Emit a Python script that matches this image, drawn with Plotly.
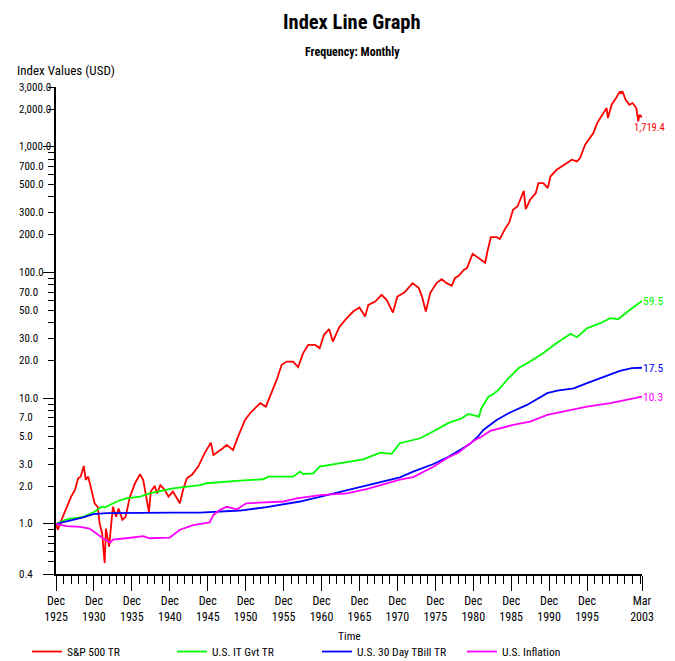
import numpy as np
import plotly.graph_objects as go

# ---------------- data ----------------
SP500_DATES = [
    "1925-12", "1926-03", "1926-09", "1927-05", "1927-12", "1928-06", "1928-11", "1929-03",
    "1929-08", "1929-11", "1930-03", "1930-08", "1931-01", "1931-06", "1931-09", "1932-01",
    "1932-05", "1932-07", "1932-12", "1933-06", "1933-11", "1934-03", "1934-09", "1935-02",
    "1935-09", "1936-05", "1937-01", "1937-06", "1937-10", "1938-03", "1938-06", "1938-12",
    "1939-04", "1939-09", "1940-04", "1940-10", "1941-05", "1942-04", "1942-09", "1943-03",
    "1943-11", "1944-09", "1945-07", "1946-05", "1946-09", "1947-05", "1947-12", "1948-06",
    "1949-04", "1949-12", "1950-11", "1951-07", "1952-03", "1952-11", "1953-08", "1954-05",
    "1955-01", "1955-09", "1956-05", "1957-03", "1957-11", "1958-07", "1959-03", "1960-02",
    "1960-09", "1961-04", "1961-12", "1962-06", "1963-04", "1964-04", "1965-02", "1965-12",
    "1966-09", "1967-02", "1968-01", "1968-11", "1969-07", "1970-05", "1970-12", "1971-11",
    "1972-12", "1973-10", "1974-03", "1974-09", "1975-04", "1976-02", "1976-10", "1977-06",
    "1978-02", "1978-07", "1979-01", "1979-09", "1980-02", "1980-11", "1981-06", "1981-11",
    "1982-07", "1982-11", "1983-04", "1984-01", "1984-06", "1985-03", "1985-09", "1986-03",
    "1986-10", "1987-08", "1987-11", "1988-06", "1989-03", "1989-07", "1990-03", "1990-10",
    "1991-02", "1991-12", "1993-01", "1993-12", "1994-08", "1995-01", "1995-09", "1996-05",
    "1996-10", "1997-04", "1997-12", "1998-07", "1998-09", "1999-03", "1999-10", "2000-04",
    "2000-06", "2000-08", "2001-01", "2001-07", "2001-12", "2002-06", "2002-09", "2002-11",
    "2003-03",
]
SP500_VALUES = [
    1.00, 0.90, 1.09, 1.37, 1.65, 1.87, 2.31, 2.38,
    2.90, 2.24, 2.38, 1.87, 1.46, 1.37, 1.01, 0.84,
    0.49, 0.92, 0.66, 1.37, 1.14, 1.33, 1.08, 1.14,
    1.65, 2.11, 2.49, 2.24, 1.75, 1.25, 1.81, 2.01,
    1.75, 2.04, 1.87, 1.65, 1.81, 1.46, 1.87, 2.31,
    2.46, 2.86, 3.65, 4.44, 3.54, 3.77, 4.01, 4.26,
    3.88, 4.95, 6.73, 7.61, 8.34, 9.14, 8.59, 11.0,
    14.0, 18.5, 19.6, 19.6, 17.7, 22.9, 26.6, 26.6,
    25.0, 32.0, 35.5, 28.3, 36.8, 43.4, 49.0, 52.7,
    44.7, 55.4, 58.9, 66.6, 60.7, 48.1, 64.5, 69.5,
    82.5, 75.3, 64.5, 49.0, 68.7, 82.5, 88.8, 82.5,
    78.5, 90.4, 94.3, 105.2, 108.6, 141.0, 133.0, 128.0,
    120.0, 152.0, 192.0, 192.0, 185.0, 226.0, 251.0, 316.0,
    336.0, 448.0, 320.0, 380.0, 430.0, 516.0, 516.0, 471.0,
    582.0, 658.0, 721.0, 791.0, 767.0, 815.0, 1042.0, 1178.0,
    1291.0, 1549.0, 1804.0, 2041.0, 1698.0, 2168.0, 2450.0, 2768.0,
    2653.0, 2780.0, 2377.0, 2168.0, 2235.0, 2041.0, 1596.0, 1804.0,
    1719.4,
]

ITGOVT_DATES = [
    "1925-12", "1927-05", "1929-07", "1931-01", "1931-12", "1932-06", "1933-12", "1935-03",
    "1937-01", "1938-04", "1941-05", "1944-12", "1945-10", "1949-04", "1950-03", "1953-04",
    "1953-12", "1957-03", "1958-02", "1958-07", "1959-11", "1960-09", "1963-05", "1966-06",
    "1968-09", "1970-03", "1971-04", "1973-12", "1975-10", "1977-09", "1979-06", "1980-04",
    "1981-09", "1982-01", "1982-12", "1983-08", "1984-04", "1985-08", "1986-12", "1988-06",
    "1990-03", "1991-12", "1993-10", "1994-08", "1995-12", "1997-09", "1999-01", "2000-01",
    "2001-08", "2003-03",
]
ITGOVT_VALUES = [
    1.00, 1.09, 1.14, 1.25, 1.37, 1.36, 1.51, 1.60,
    1.65, 1.75, 1.92, 2.04, 2.11, 2.21, 2.21, 2.27,
    2.38, 2.38, 2.61, 2.50, 2.53, 2.86, 3.04, 3.27,
    3.70, 3.61, 4.39, 4.81, 5.50, 6.38, 6.94, 7.51,
    7.15, 8.34, 10.3, 10.8, 11.7, 14.5, 17.4, 19.6,
    22.9, 27.5, 32.6, 30.6, 36.1, 39.6, 43.4, 42.6,
    50.6, 59.5,
]

TBILL_DATES = [
    "1925-12", "1929-07", "1930-11", "1932-08", "1941-05", "1944-12", "1950-03", "1953-09",
    "1958-02", "1962-07", "1966-01", "1968-09", "1971-04", "1973-01", "1975-09", "1977-09",
    "1979-01", "1980-06", "1981-08", "1982-04", "1984-01", "1985-11", "1988-01", "1990-09",
    "1992-01", "1994-03", "1995-12", "1998-07", "2000-04", "2001-11", "2003-03",
]
TBILL_VALUES = [
    1.00, 1.13, 1.20, 1.22, 1.23, 1.23, 1.28, 1.36,
    1.51, 1.75, 1.98, 2.17, 2.35, 2.61, 3.00, 3.43,
    3.80, 4.30, 5.00, 5.60, 6.73, 7.75, 8.86, 11.0,
    11.5, 12.0, 13.2, 15.1, 16.5, 17.4, 17.5,
]

INFL_DATES = [
    "1925-12", "1927-05", "1929-02", "1930-05", "1931-04", "1932-02", "1933-02", "1933-06",
    "1935-03", "1937-06", "1938-04", "1940-12", "1942-04", "1944-01", "1946-03", "1946-09",
    "1947-07", "1948-06", "1949-10", "1951-01", "1955-12", "1957-09", "1960-10", "1964-04",
    "1966-11", "1968-09", "1970-06", "1971-04", "1973-01", "1974-10", "1975-09", "1977-09",
    "1979-01", "1980-01", "1981-01", "1982-01", "1983-03", "1986-03", "1988-06", "1990-09",
    "1993-04", "1995-12", "1999-01", "2001-08", "2003-03",
]
INFL_VALUES = [
    1.00, 0.96, 0.95, 0.92, 0.84, 0.77, 0.71, 0.75,
    0.77, 0.80, 0.77, 0.78, 0.90, 0.98, 1.03, 1.18,
    1.29, 1.37, 1.31, 1.46, 1.51, 1.60, 1.70, 1.75,
    1.89, 2.04, 2.20, 2.25, 2.36, 2.65, 2.85, 3.40,
    3.70, 4.15, 4.60, 4.95, 5.50, 6.14, 6.53, 7.38,
    7.98, 8.59, 9.14, 9.84, 10.3,
]

SERIES_NAMES = ["S&P 500 TR", "U.S. IT Gvt TR", "U.S. 30 Day TBill TR", "U.S. Inflation"]
SERIES_COLORS = ["#FF0000", "#00FF00", "#0000FF", "#FF00FF"]

X_TICK_DATES = ["1925-12-01", "1930-12-01", "1935-12-01", "1940-12-01", "1945-12-01",
                "1950-12-01", "1955-12-01", "1960-12-01", "1965-12-01", "1970-12-01",
                "1975-12-01", "1980-12-01", "1985-12-01", "1990-12-01", "1995-12-01",
                "2003-03-01"]
X_TICK_TEXT = ["Dec<br>1925", "Dec<br>1930", "Dec<br>1935", "Dec<br>1940", "Dec<br>1945",
               "Dec<br>1950", "Dec<br>1955", "Dec<br>1960", "Dec<br>1965", "Dec<br>1970",
               "Dec<br>1975", "Dec<br>1980", "Dec<br>1985", "Dec<br>1990", "Dec<br>1995",
               "Mar<br>2003"]
X_RANGE = ["1925-12-01", "2003-03-01"]

Y_LABEL_VALUES = [0.4, 1, 2, 3, 5, 7, 10, 20, 30, 50, 70, 100, 200, 300, 500, 700,
                  1000, 2000, 3000]
Y_DECADE_TICKS = [0.4, 1, 10, 100, 1000]
Y_MINOR_TICKS = [0.5, 0.6, 0.7, 0.8, 0.9,
                 2, 3, 4, 5, 6, 7, 8, 9,
                 20, 30, 40, 50, 60, 70, 80, 90,
                 200, 300, 400, 500, 600, 700, 800, 900,
                 2000, 3000]
Y_RANGE = [0.4, 3000]

TITLE = "Index Line Graph"
SUBTITLE = "Frequency: Monthly"
Y_TITLE = "Index Values (USD)"
X_TITLE = "Time"

FONT = "Roboto Condensed, DejaVu Sans Condensed, sans-serif"
FS = 11.5

# ---------------- figure ----------------
fig = go.Figure()
all_series = [
    (SP500_DATES, SP500_VALUES),
    (ITGOVT_DATES, ITGOVT_VALUES),
    (TBILL_DATES, TBILL_VALUES),
    (INFL_DATES, INFL_VALUES),
]
for (dates, vals), name, color in zip(all_series, SERIES_NAMES, SERIES_COLORS):
    fig.add_trace(go.Scatter(
        x=dates, y=vals, mode="lines", name=name,
        line=dict(color=color, width=1.8),
        hoverinfo="skip",
    ))

annotations = []
# y tick labels (left aligned like the reference)
for v in Y_LABEL_VALUES:
    annotations.append(dict(
        x=0, xref="paper", y=np.log10(v), yref="y",
        text=f"{v:,.1f}", showarrow=False, xanchor="left", yanchor="middle",
        xshift=-39, font=dict(family=FONT, size=11, color="black"),
    ))
# end-of-line value labels (the S&P one is tucked just under the line end so it
# stays inside the visible page)
for i, ((dates, vals), color) in enumerate(zip(all_series, SERIES_COLORS)):
    if i == 0:
        annotations.append(dict(
            x=1, xref="paper", y=np.log10(vals[-1]), yref="y",
            text=f"{vals[-1]:,.1f}", showarrow=False, xanchor="right", yanchor="middle",
            xshift=25, yshift=-10, font=dict(family=FONT, size=10.5, color=color),
        ))
    else:
        annotations.append(dict(
            x=dates[-1], xref="x", y=np.log10(vals[-1]), yref="y",
            text=f"{vals[-1]:,.1f}", showarrow=False, xanchor="left", yanchor="middle",
            xshift=-1, font=dict(family=FONT, size=FS, color=color),
        ))
# titles
annotations += [
    dict(x=0.5, xref="paper", y=1, yref="paper", yshift=65, text=f"<b>{TITLE}</b>",
         showarrow=False, xanchor="center", yanchor="middle", xshift=3,
         font=dict(family=FONT, size=20.5, color="black")),
    dict(x=0.5, xref="paper", y=1, yref="paper", yshift=35, text=f"<b>{SUBTITLE}</b>",
         showarrow=False, xanchor="center", yanchor="middle", xshift=3,
         font=dict(family=FONT, size=12, color="black")),
    dict(x=0, xref="paper", y=1, yref="paper", yshift=17, xshift=-41, text=Y_TITLE,
         showarrow=False, xanchor="left", yanchor="middle",
         font=dict(family=FONT, size=13, color="black")),
    dict(x=0.5, xref="paper", y=0, yref="paper", yshift=-62, text=X_TITLE,
         showarrow=False, xanchor="center", yanchor="middle",
         font=dict(family=FONT, size=FS, color="black")),
]

# The page body adds an 8px offset, so the figure is laid out smaller and shifted.
fig.update_layout(
    width=659, height=653,
    margin=dict(l=48, r=25, t=79, b=87, autoexpand=False),
    paper_bgcolor="white", plot_bgcolor="white",
    font=dict(family=FONT, size=FS, color="black"),
    showlegend=True,
    legend=dict(orientation="h", x=-0.0495, xanchor="left", y=-0.189, yanchor="bottom",
                entrywidth=100, entrywidthmode="pixels",
                font=dict(family=FONT, size=FS, color="black"),
                bgcolor="rgba(0,0,0,0)", traceorder="normal"),
    annotations=annotations,
    xaxis=dict(
        type="date", range=X_RANGE, showgrid=False, zeroline=False,
        showline=True, linecolor="black", linewidth=1.5,
        tickmode="array", tickvals=X_TICK_DATES, ticktext=X_TICK_TEXT,
        ticks="outside", ticklen=15, tickwidth=1.2, tickcolor="black",
        tickfont=dict(family=FONT, size=12, color="black"),
        minor=dict(ticks="outside", ticklen=8, tickwidth=1.2, tickcolor="black",
                   dtick="M12", tick0="1925-12-01", showgrid=False),
    ),
    yaxis=dict(
        type="log", range=[np.log10(Y_RANGE[0]), np.log10(Y_RANGE[1])],
        showgrid=False, zeroline=False,
        showline=True, linecolor="black", linewidth=1.5,
        tickmode="array", tickvals=Y_DECADE_TICKS, showticklabels=False,
        ticks="outside", ticklen=11, tickwidth=1.2, tickcolor="black",
        minor=dict(ticks="outside", ticklen=6, tickwidth=1.2, tickcolor="black",
                   tickmode="array", tickvals=Y_MINOR_TICKS, showgrid=False),
    ),
)

fig.write_html("out.html")
